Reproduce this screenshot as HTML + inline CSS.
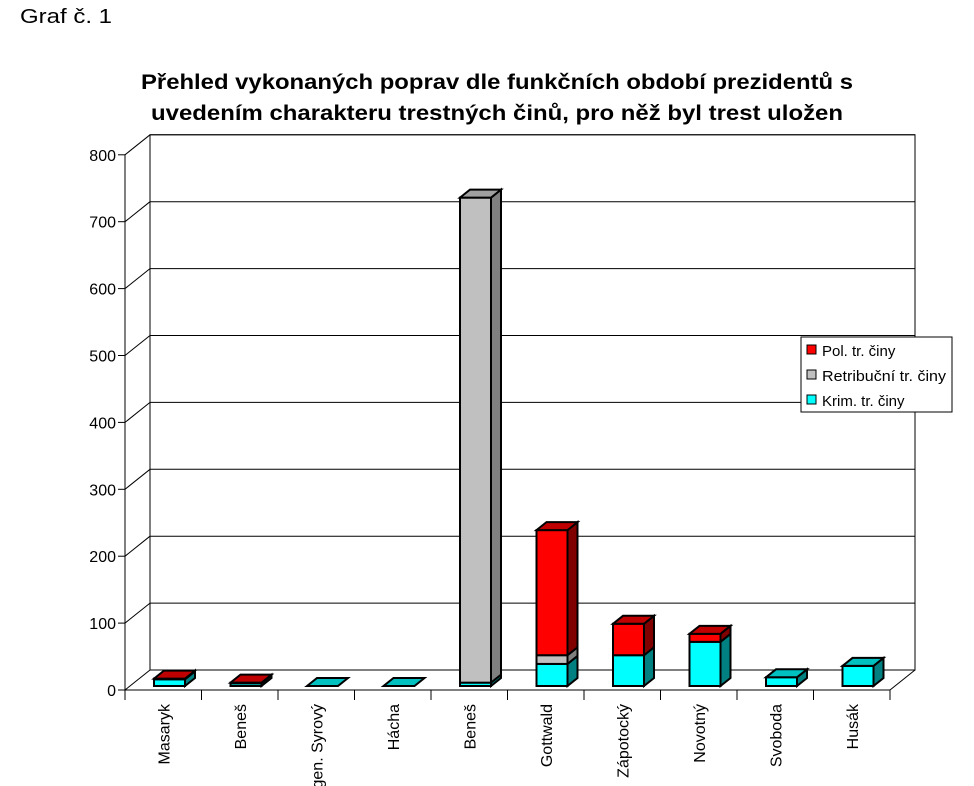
<!DOCTYPE html>
<html><head><meta charset="utf-8"><style>
body{margin:0;background:#fff;}
svg{display:block;font-family:"Liberation Sans",sans-serif;}
</style></head><body>
<svg id="chart" width="974" height="786">
<text x="20" y="23" font-size="20" textLength="92" lengthAdjust="spacingAndGlyphs">Graf č. 1</text>
<text x="497" y="89" font-size="21" font-weight="bold" text-anchor="middle" textLength="712" lengthAdjust="spacingAndGlyphs">Přehled vykonaných poprav dle funkčních období prezidentů s</text>
<text x="497" y="120" font-size="21" font-weight="bold" text-anchor="middle" textLength="692" lengthAdjust="spacingAndGlyphs">uvedením charakteru trestných činů, pro něž byl trest uložen</text>
<g id="axes"></g><g id="bars"></g>
<g>
<rect x="801" y="337" width="151" height="75" fill="#fff" stroke="#000"/>
<rect x="807" y="345" width="9" height="9" fill="#f00" stroke="#000"/>
<text x="822" y="356" font-size="15">Pol. tr. činy</text>
<rect x="807" y="370" width="9" height="9" fill="#c0c0c0" stroke="#000"/>
<text x="822" y="381" font-size="15" textLength="124" lengthAdjust="spacingAndGlyphs">Retribuční tr. činy</text>
<rect x="807" y="395" width="9" height="9" fill="#0ff" stroke="#000"/>
<text x="822" y="406" font-size="15">Krim. tr. činy</text>
</g>
</svg>
<script>
const categories=["Masaryk","Beneš","gen. Syrový","Hácha","Beneš","Gottwald","Zápotocký","Novotný","Svoboda","Husák"];
const krim=[10,4,0,0,5,33,46,66,13,30];
const retr=[0,0,0,0,725,13,0,0,0,0];
const pol=[1,1,0,0,0,187,47,12,0,0];
const yTicks=[0,100,200,300,400,500,600,700,800];
const NS="http://www.w3.org/2000/svg";
const X0=125,Y0=690,catW=76.5,perUnit=0.669,DX=25,DY=-20;
function y(v){return Y0-v*perUnit;}
function catX(i){return X0+i*catW;}
function mk(tag,attrs,parent){const e=document.createElementNS(NS,tag);for(const k in attrs)e.setAttribute(k,attrs[k]);parent.appendChild(e);return e;}
const ax=document.getElementById('axes');
const wall=mk('rect',{x:X0+DX,y:y(800)+DY,width:765,height:800*perUnit,fill:'#fff',stroke:'#000'},ax);


yTicks.forEach(t=>{
 const g=mk('line',{x1:X0+DX,x2:X0+DX+765,y1:y(t)+DY,y2:y(t)+DY,stroke:'#000'},ax);
 
 
 mk('line',{x1:X0,y1:y(t),x2:X0+DX,y2:y(t)+DY,stroke:'#000'},ax);
 mk('line',{x1:X0-7,y1:y(t),x2:X0,y2:y(t),stroke:'#000'},ax);
 const l=mk('text',{x:X0-9,y:y(t)+6,'font-size':16,'text-anchor':'end'},ax);
 l.textContent=t;
 
 
});
mk('line',{x1:X0,y1:y(0),x2:X0,y2:y(800),stroke:'#000'},ax);
mk('line',{x1:X0,y1:Y0,x2:X0+765,y2:Y0,stroke:'#000'},ax);
mk('line',{x1:X0+765,y1:Y0,x2:X0+765+DX,y2:Y0+DY,stroke:'#000'},ax);
for(let i=0;i<=categories.length;i++){mk('line',{x1:catX(i),y1:Y0,x2:catX(i),y2:Y0+10,stroke:'#000'},ax);}
categories.forEach((c,i)=>{
 const cx=catX(i)+catW/2+6;
 const t=mk('text',{x:0,y:0,'font-size':16,'text-anchor':'end',transform:`translate(${cx},704) rotate(-90)`},ax);
 t.textContent=c;
 
 
});
const bars=document.getElementById('bars');
const BW=31,BDX=10,BDY=-8,BASE=686;
function by(v){return BASE-v*perUnit;}
const series=[[krim,'#0ff','#008080','#00c0c0','krim'],[retr,'#c0c0c0','#808080','#a0a0a0','retr'],[pol,'#f00','#800000','#c00000','pol']];
categories.forEach((c,i)=>{
 const x=catX(i)+29;let base=0;let top=null;
 series.forEach(s=>{
  const v=s[0][i];if(v<=0)return;
  const y1=by(base),y2=by(base+v);
  const f=mk('rect',{x:x,y:y2,width:BW,height:y1-y2,fill:s[1],stroke:'#000','stroke-width':2},bars);
  
  
  mk('polygon',{points:`${x+BW},${y1} ${x+BW+BDX},${y1+BDY} ${x+BW+BDX},${y2+BDY} ${x+BW},${y2}`,fill:s[2],stroke:'#000','stroke-width':2},bars);
  base+=v;top=s;
 });
 if(!top)top=series[0];
 const yt=by(base);
 const tf=mk('polygon',{points:`${x},${yt} ${x+BDX},${yt+BDY} ${x+BW+BDX},${yt+BDY} ${x+BW},${yt}`,fill:top[3],stroke:'#000','stroke-width':2},bars);
 
 
});
</script>
</body></html>
